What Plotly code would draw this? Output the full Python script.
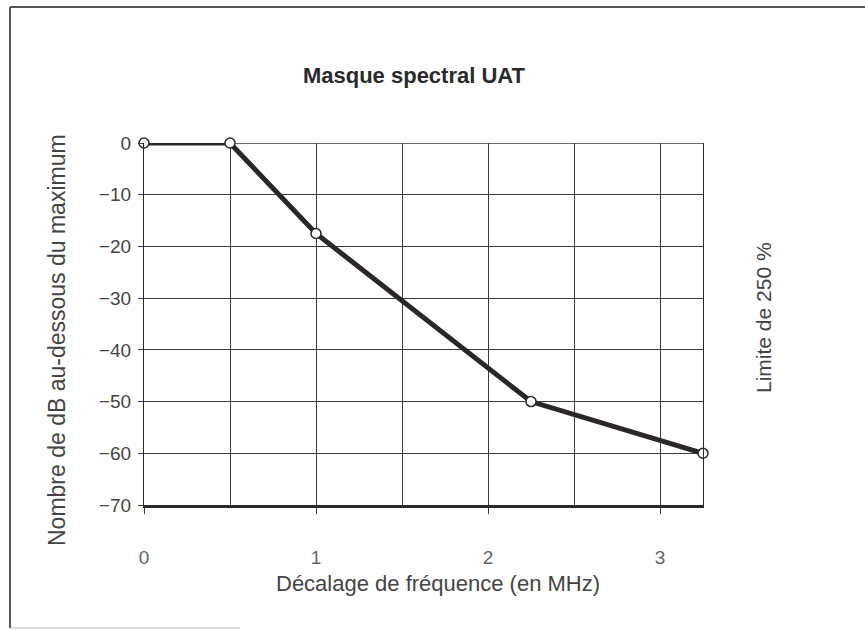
import plotly.graph_objects as go

# Spectral mask breakpoints
freq_offset_mhz = [0, 0.5, 1, 2.25, 3.25]
attenuation_db = [0, 0, -17.5, -50, -60]

x_ticks = [0, 1, 2, 3]
y_ticks = [0, -10, -20, -30, -40, -50, -60, -70]

FONT = "Liberation Sans, Arial, sans-serif"
INK = "#2e2e2e"
GRID = "#3a3a3a"

# plot area in pixels: x 144..703, y 143..505
px_x = lambda p: (p - 144) / 559
px_y = lambda p: (505 - p) / 362

fig = go.Figure()
fig.add_trace(go.Scatter(
    x=freq_offset_mhz,
    y=attenuation_db,
    mode="lines+markers",
    line=dict(color="#2b2628", width=5),
    marker=dict(size=10, color="white", line=dict(color="#2b2628", width=1.5)),
    cliponaxis=False,
    showlegend=False,
))

fig.update_layout(
    width=865,
    height=630,
    margin=dict(l=144, r=162, t=143, b=125),
    paper_bgcolor="white",
    plot_bgcolor="white",
    font=dict(family=FONT, color=INK),
    title=dict(
        text="<b>Masque spectral UAT</b>",
        font=dict(family=FONT, size=22, color="#2a2a2a"),
        x=414 / 865, xanchor="center",
        y=1 - 75 / 630, yanchor="middle",
    ),
    xaxis=dict(
        range=[0, 3.25],
        tickvals=x_ticks,
        ticktext=[str(v) for v in x_ticks],
        ticks="outside",
        ticklen=6,
        tickcolor=GRID,
        tickfont=dict(size=19, color="#666"),
        ticklabelstandoff=27,
        showgrid=True,
        gridcolor=GRID,
        gridwidth=1.3,
        minor=dict(dtick=0.5, tick0=0, showgrid=True, gridcolor=GRID, gridwidth=1.3, ticks=""),
        showline=True,
        linecolor="#2a2a2a",
        linewidth=2.5,
        mirror=False,
        zeroline=False,
        fixedrange=True,
    ),
    yaxis=dict(
        range=[-70, 0],
        tickvals=y_ticks,
        ticks="outside",
        ticklen=5,
        tickcolor=GRID,
        tickfont=dict(size=19, color="#444"),
        ticklabelstandoff=3,
        showgrid=True,
        gridcolor=GRID,
        gridwidth=1.3,
        showline=True,
        linecolor="#2a2a2a",
        linewidth=1.3,
        mirror=True,
        zeroline=False,
        fixedrange=True,
    ),
)

# Top border of the grid at 0 dB
fig.add_shape(type="line", xref="paper", yref="y", x0=0, x1=1, y0=0, y1=0,
              line=dict(color=GRID, width=1.3), layer="below")

# Axis titles and side label
labels = [
    ("Décalage de fréquence (en MHz)", 438, 583, 0, 22),
    ("Nombre de dB au-dessous du maximum", 57, 340, -90, 23),
    ("Limite de 250 %", 763, 318, -90, 21),
]
for text, cx, cy, angle, size in labels:
    fig.add_annotation(
        text=text,
        xref="paper", yref="paper",
        x=px_x(cx), y=px_y(cy),
        xanchor="center", yanchor="middle",
        textangle=angle,
        showarrow=False,
        font=dict(family=FONT, size=size, color="#444"),
    )

# Outer frame of the figure panel
frame = dict(type="line", xref="paper", yref="paper", line=dict(color="#555", width=2))
fig.add_shape(**frame, x0=px_x(10), x1=px_x(865), y0=px_y(7), y1=px_y(7))
fig.add_shape(**frame, x0=px_x(10), x1=px_x(10), y0=px_y(7), y1=px_y(628))
fig.add_shape(type="line", xref="paper", yref="paper",
              line=dict(color="#bbb", width=1),
              x0=px_x(10), x1=px_x(240), y0=px_y(628), y1=px_y(628))

fig.write_html("out.html")
